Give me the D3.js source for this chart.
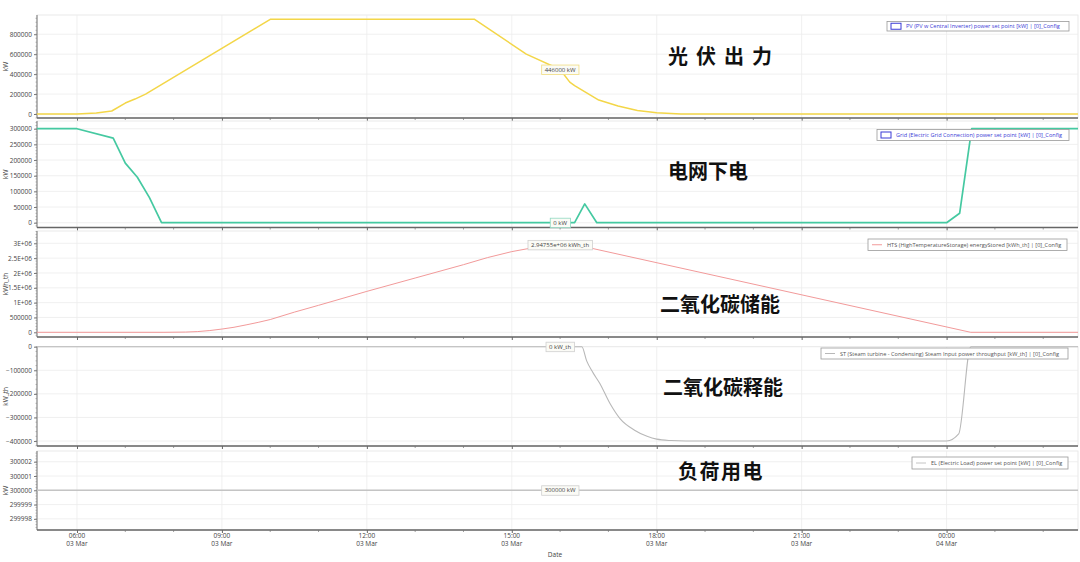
<!DOCTYPE html>
<html><head><meta charset="utf-8">
<script src="https://cdn.jsdelivr.net/npm/d3@7"></script>
<style>
html,body{margin:0;padding:0;background:#fff;}
svg{display:block;font-family:"Open Sans","Noto Sans",sans-serif;}
</style></head>
<body><svg id="c" width="1080" height="562"></svg>
<script>
// ---- data (hours since 03 Mar 00:00) ----
const pvHours   = [5.17, 6.0, 6.4, 6.72, 7.0, 7.2, 7.42, 10.0, 14.23, 15.3, 16.0, 16.2, 16.3, 16.8, 17.2, 17.6, 18.0, 18.5, 26.72];
const pvValues  = [0, 0, 10000, 30000, 110000, 150000, 200000, 950000, 950000, 600000, 446000, 320000, 285000, 140000, 80000, 35000, 12000, 0, 0];
const gridHours = [5.17, 6.0, 6.75, 7.0, 7.25, 7.5, 7.75, 16.3, 16.51, 16.76, 24.0, 24.27, 24.52, 26.72];
const gridValues= [300000, 300000, 270000, 190000, 145000, 80000, 0, 0, 60000, 0, 0, 30000, 300000, 300000];
const htsHours  = [5.17, 7.8, 8.25, 8.5, 8.75, 9.0, 9.25, 9.5, 9.75, 10.0, 10.5, 11.0, 12.0, 13.0, 14.0, 14.5, 15.0, 15.5, 16.0, 16.3, 24.5, 26.72];
const htsValues = [0, 0, 8000, 25000, 60000, 110000, 170000, 250000, 335000, 430000, 680000, 910000, 1380000, 1830000, 2280000, 2520000, 2720000, 2870000, 2947550, 2960000, 0, 0];
const stHours   = [5.17, 16.45, 16.55, 16.68, 16.82, 17.03, 17.24, 17.55, 17.8, 18.0, 18.3, 18.6, 24.0, 24.25, 24.5, 26.72];
const stValues  = [0, 0, -60000, -110000, -155000, -240000, -305000, -355000, -380000, -392000, -398000, -400000, -400000, -370000, 0, 0];
const elHours   = [5.17, 26.72];
const elValues  = [300000, 300000];

const pvTicks   = [0, 200000, 400000, 600000, 800000];
const gridTicks = [0, 50000, 100000, 150000, 200000, 250000, 300000];
const htsTicks  = [0, 500000, 1000000, 1500000, 2000000, 2500000, 3000000];
const htsTickLabels = ["0", "500000", "1E+06", "1.5E+06", "2E+06", "2.5E+06", "3E+06"];
const stTicks   = [0, -100000, -200000, -300000, -400000];
const elTicks   = [299998, 299999, 300000, 300001, 300002];

const seriesNames = [
  "PV (PV w Central Inverter) power set point [kW] | [0]_Config",
  "Grid (Electric Grid Connection) power set point [kW] | [0]_Config",
  "HTS (HighTemperatureStorage) energyStored [kWh_th] | [0]_Config",
  "ST (Steam turbine - Condensing) Steam Input power throughput [kW_th] | [0]_Config",
  "EL (Electric Load) power set point [kW] | [0]_Config"
];
const unitLabels = ["kW", "kW", "kWh_th", "kW_th", "kW"];
const cnLabels = ["光伏出力", "电网下电", "二氧化碳储能", "二氧化碳释能", "负荷用电"];
const tipHour = 16.0;
const tipLabels = ["446000 kW", "0 kW", "2.94755e+06 kWh_th", "0 kW_th", "300000 kW"];
const tipValues = [446000, 0, 2947550, 0, 300000];

// ---- layout ----
const base = new Date(2024, 2, 3, 0, 0, 0);
const toDate = h => new Date(base.getTime() + h * 3600e3);
const X0 = 37, X1 = 1078;
const x = d3.scaleTime().domain([toDate(5.1725), toDate(26.72)]).range([X0, X1]);

const panels = [
  {top:15,  bottom:118, domain:[-40000, 993000], hours:pvHours, values:pvValues, ticks:pvTicks, color:"#f3d648", width:1.5, legendBlue:true,
   legend:[887,21.5,182,9.5], cn:[668,57], cnSpacing:8, smooth:false},
  {top:121, bottom:227.5, domain:[-15300, 324600], hours:gridHours, values:gridValues, ticks:gridTicks, color:"#45c9a1", width:1.7, legendBlue:true,
   legend:[877,129.5,192,11], cn:[668,172], cnSpacing:0, smooth:false},
  {top:231, bottom:337, domain:[-158000, 3415000], hours:htsHours, values:htsValues, ticks:htsTicks, tickLabels:htsTickLabels, color:"#f29a9a", width:1, legendBlue:false,
   legend:[868,239,199,11.5], cn:[660,305], cnSpacing:0, smooth:false},
  {top:346.7, bottom:446, domain:[-421000, 0], hours:stHours, values:stValues, ticks:stTicks, color:"#b8b8b8", width:1.1, legendBlue:false,
   legend:[821,348,247,11], cn:[663,388], cnSpacing:0, smooth:true},
  {top:451, bottom:530, domain:[299997.22, 300002.75], hours:elHours, values:elValues, ticks:elTicks, color:"#c4c4c4", width:1.5, legendBlue:false,
   legend:[912,457,156,12], cn:[678,472], cnSpacing:1.5, smooth:false}
];

const svg = d3.select("#c");
const majorHours = [6, 9, 12, 15, 18, 21, 24];
const minorHours = d3.range(6, 27);

panels.forEach((p, i) => {
  const y = d3.scaleLinear().domain(p.domain).range([p.bottom, p.top]);
  const g = svg.append("g");

  // frame
  g.append("rect").attr("x", X0).attr("y", p.top).attr("width", X1 - X0).attr("height", p.bottom - p.top)
    .attr("fill", "#fff").attr("stroke", "#e4e4e4").attr("stroke-width", 0.8);

  // grid
  g.append("g").selectAll("line").data(majorHours).join("line")
    .attr("x1", h => x(toDate(h))).attr("x2", h => x(toDate(h)))
    .attr("y1", p.top).attr("y2", p.bottom).attr("stroke", "#ececec").attr("stroke-width", 0.8);
  g.append("g").selectAll("line").data(p.ticks).join("line")
    .attr("x1", X0).attr("x2", X1).attr("y1", d => y(d)).attr("y2", d => y(d))
    .attr("stroke", "#ececec").attr("stroke-width", 0.8);

  // y axis
  const step = p.ticks[1] - p.ticks[0];
  const yAxis = d3.axisLeft(y).tickValues(p.ticks).tickSize(3).tickPadding(2)
    .tickFormat((d, k) => p.tickLabels ? p.tickLabels[k] : d3.format("d")(d));
  const ya = g.append("g").attr("transform", `translate(${X0},0)`).call(yAxis);
  ya.select(".domain").attr("stroke", "#777").attr("stroke-width", 1).attr("d", `M-0,${p.top}V${p.bottom}`);
  ya.selectAll(".tick line").attr("stroke", "#777");
  ya.selectAll(".tick text").attr("fill", "#444").style("font-size", "6.5px").style("font-family", "'Open Sans',sans-serif");
  // minor y ticks
  const sub = Math.abs(step) / 5;
  const lo = Math.min(p.domain[0], p.domain[1]), hi = Math.max(p.domain[0], p.domain[1]);
  const minorY = [];
  for (let v = Math.ceil(lo / sub) * sub; v <= hi; v += sub) minorY.push(v);
  g.append("g").selectAll("line").data(minorY).join("line")
    .attr("x1", X0 - 1.5).attr("x2", X0).attr("y1", d => y(d)).attr("y2", d => y(d))
    .attr("stroke", "#888").attr("stroke-width", 0.6);

  // y title
  g.append("text").attr("transform", `translate(8,${(p.top + p.bottom) / 2}) rotate(-90)`)
    .attr("text-anchor", "middle").attr("fill", "#444").style("font-size", "6.5px").text(unitLabels[i]);

  // x axis (bottom of panel)
  const last = i === panels.length - 1;
  const xAxis = d3.axisBottom(x).tickValues(majorHours.map(toDate)).tickSize(3).tickPadding(2).tickFormat(() => "");
  const xa = g.append("g").attr("transform", `translate(0,${p.bottom})`).call(xAxis);
  xa.select(".domain").attr("stroke", "#666").attr("stroke-width", 1.3).attr("d", `M${X0},0H${X1}`);
  xa.selectAll(".tick line").attr("stroke", "#666");
  g.append("g").selectAll("line").data(minorHours.filter(h => majorHours.indexOf(h) < 0)).join("line")
    .attr("x1", h => x(toDate(h))).attr("x2", h => x(toDate(h)))
    .attr("y1", p.bottom).attr("y2", p.bottom + 2).attr("stroke", "#777").attr("stroke-width", 0.7);
  if (last) {
    const lab = g.append("g").selectAll("text").data(majorHours).join("text")
      .attr("x", h => x(toDate(h))).attr("text-anchor", "middle").attr("fill", "#444").style("font-size", "6.5px");
    lab.append("tspan").attr("x", h => x(toDate(h))).attr("y", p.bottom + 8).text(h => d3.timeFormat("%H:%M")(toDate(h)));
    lab.append("tspan").attr("x", h => x(toDate(h))).attr("y", p.bottom + 16).text(h => d3.timeFormat("%d %b")(toDate(h)));
    g.append("text").attr("x", 555).attr("y", p.bottom + 27).attr("text-anchor", "middle")
      .attr("fill", "#444").style("font-size", "6.5px").text("Date");
  }

  // series line
  const pts = p.hours.map((h, k) => [toDate(h), p.values[k]]);
  const lineGen = d3.line().x(d => x(d[0])).y(d => y(d[1]));
  if (p.smooth) lineGen.curve(d3.curveMonotoneX);
  g.append("path").datum(pts)
    .attr("d", lineGen)
    .attr("fill", "none").attr("stroke", p.color).attr("stroke-width", p.width).attr("stroke-linejoin", "round");

  // legend
  const [lx, ly, lw, lh] = p.legend;
  g.append("rect").attr("x", lx).attr("y", ly).attr("width", lw).attr("height", lh)
    .attr("fill", "#fff").attr("stroke", "#9a9a9a").attr("stroke-width", 0.8);
  if (p.legendBlue) {
    g.append("rect").attr("x", lx + 4).attr("y", ly + lh / 2 - 3).attr("width", 10).attr("height", 6)
      .attr("fill", "#fff").attr("stroke", "#3b3bd6").attr("stroke-width", 1);
  } else {
    g.append("line").attr("x1", lx + 4).attr("x2", lx + 14).attr("y1", ly + lh / 2).attr("y2", ly + lh / 2)
      .attr("stroke", p.color).attr("stroke-width", 1);
  }
  g.append("text").attr("x", lx + 19).attr("y", ly + lh / 2 + 2)
    .attr("fill", p.legendBlue ? "#3b3bd6" : "#555").style("font-size", "5.6px").text(seriesNames[i]);

  // tooltip
  const tx = x(toDate(tipHour)), ty = y(tipValues[i]);
  const tt = g.append("g");
  const txt = tt.append("text").attr("x", tx).attr("y", ty + 2).attr("text-anchor", "middle")
    .attr("fill", "#444").style("font-size", "6px").text(tipLabels[i]);
  const bb = txt.node().getBBox();
  tt.insert("rect", "text").attr("x", bb.x - 3).attr("y", ty - 4.5).attr("width", bb.width + 6).attr("height", 9.5)
    .attr("fill", "#fbfbf6").attr("stroke", i === 0 ? "#f0dc80" : (i === 1 ? "#8fd8c0" : "#cfcfcf")).attr("stroke-width", 0.8);

  // Chinese annotation
  svg.append("text").attr("x", p.cn[0]).attr("y", p.cn[1] + 7)
    .attr("fill", "#111").style("font-family", "'Noto Sans CJK SC',sans-serif")
    .style("font-size", "20px").style("font-weight", "700").style("letter-spacing", p.cnSpacing + "px")
    .text(cnLabels[i]);
});
</script></body></html>
